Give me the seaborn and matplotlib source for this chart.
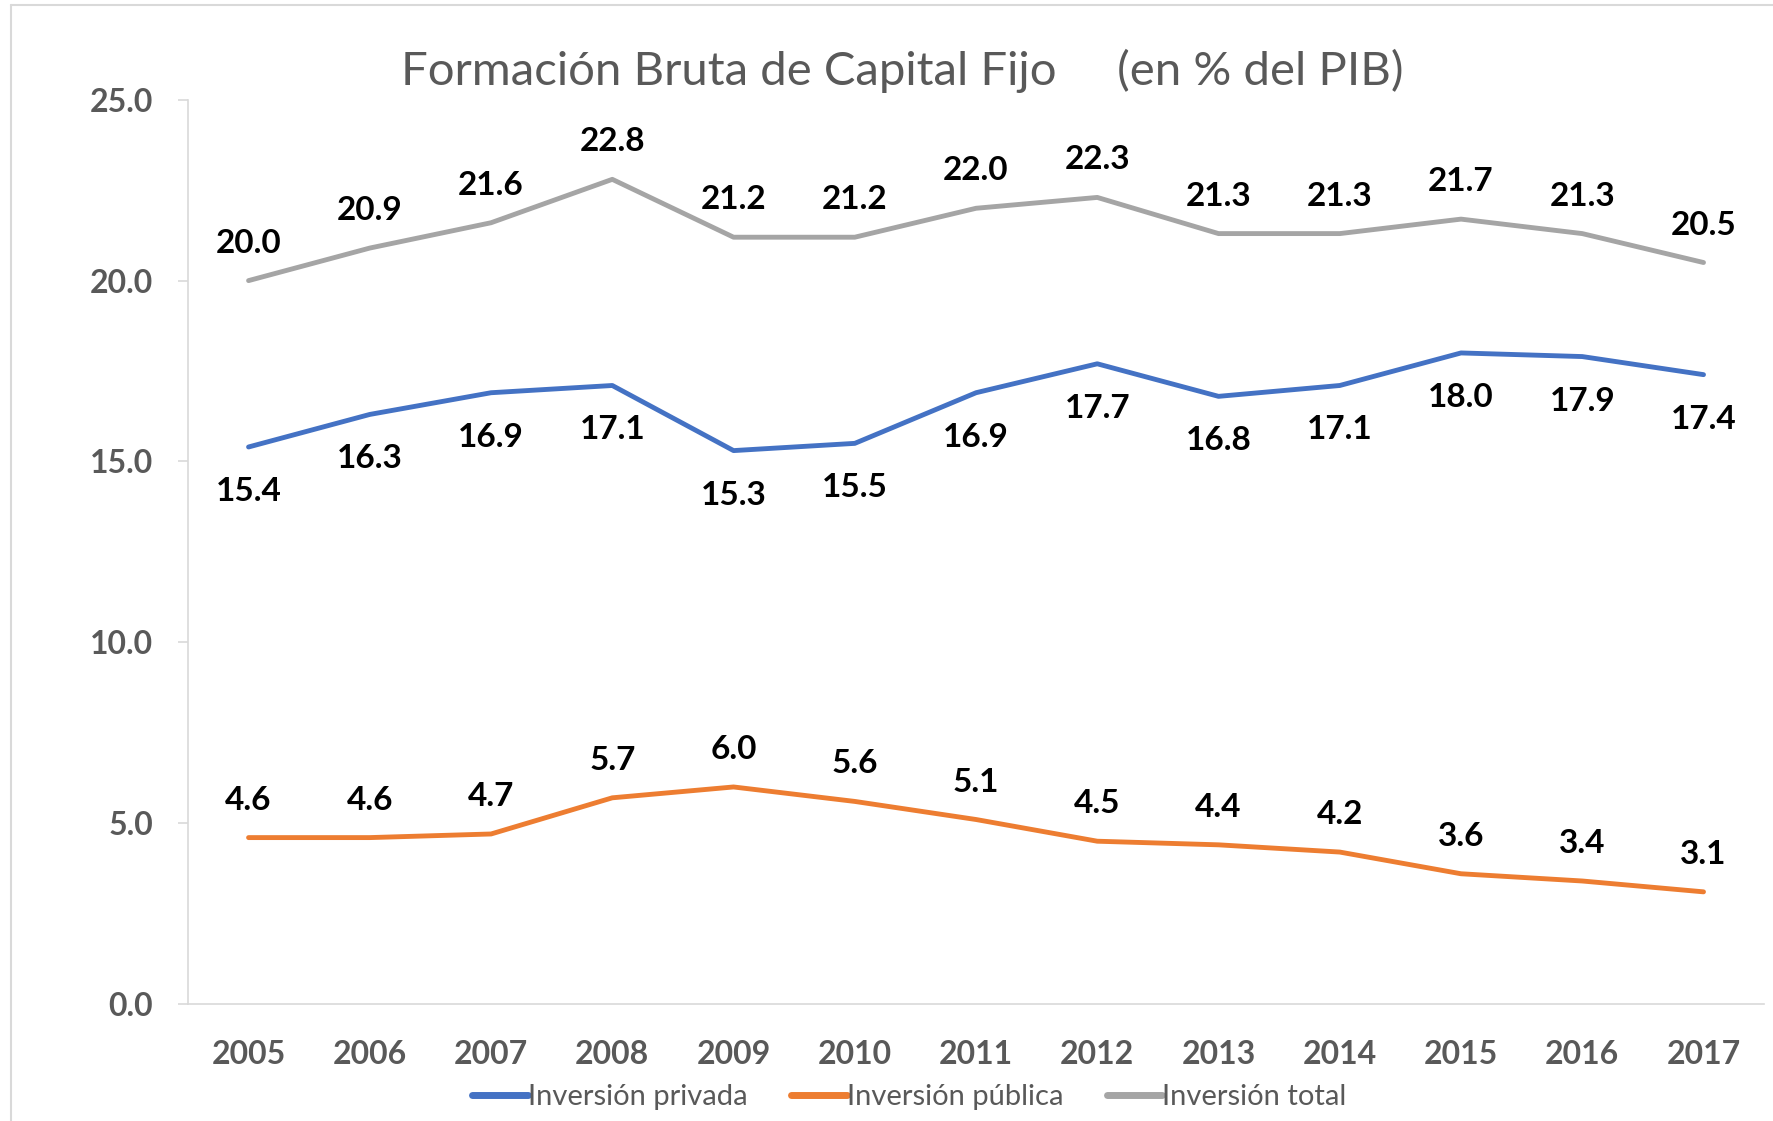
import numpy as np
import pandas as pd
import matplotlib
matplotlib.use("Agg")
import matplotlib.pyplot as plt
from matplotlib.lines import Line2D
import seaborn as sns

years = list(range(2005, 2018))
privada = [15.4, 16.3, 16.9, 17.1, 15.3, 15.5, 16.9, 17.7, 16.8, 17.1, 18.0, 17.9, 17.4]
publica = [4.6, 4.6, 4.7, 5.7, 6.0, 5.6, 5.1, 4.5, 4.4, 4.2, 3.6, 3.4, 3.1]
total = [20.0, 20.9, 21.6, 22.8, 21.2, 21.2, 22.0, 22.3, 21.3, 21.3, 21.7, 21.3, 20.5]

series_names = ["Inversión privada", "Inversión pública", "Inversión total"]
colors = ["#4472C4", "#ED7D31", "#A5A5A5"]

sns.set_style("white")
plt.rcParams['font.family'] = ['Lato', 'DejaVu Sans']

df = pd.DataFrame({
    "year": years * 3,
    "value": privada + publica + total,
    "serie": [series_names[0]] * 13 + [series_names[1]] * 13 + [series_names[2]] * 13,
})

fig = plt.figure(figsize=(17.73, 11.21), dpi=100)
ax = fig.add_axes([0.106, 0.1044, 0.889, 0.8066])

sns.lineplot(data=df, x="year", y="value", hue="serie", palette=colors,
             linewidth=3.5, ax=ax, legend=False)

# data labels: total and publica above, privada below
offsets = {series_names[0]: -32, series_names[1]: 27, series_names[2]: 27}
for name, vals in zip(series_names, [privada, publica, total]):
    for x, v in zip(years, vals):
        ax.annotate(f"{v:.1f}", (x, v), xytext=(0, offsets[name]),
                    textcoords="offset points", ha="center", va="center",
                    fontsize=24, fontweight="bold", color="black")

ax.set_xlim(2004.5, 2017.5)
ax.set_ylim(0, 25)
ax.set_xticks(years)
ax.set_xticklabels([str(y) for y in years])
ax.set_yticks(np.arange(0, 25.1, 5))
ax.set_yticklabels([f"{t:.1f}" for t in np.arange(0, 25.1, 5)])
ax.set_xlabel("")
ax.set_ylabel("")

for side in ["top", "right"]:
    ax.spines[side].set_visible(False)
for side in ["left", "bottom"]:
    ax.spines[side].set_color("#D9D9D9")
    ax.spines[side].set_linewidth(1.2)

ax.tick_params(axis="y", which="both", left=True, length=7, width=1.2,
               color="#D9D9D9", pad=18, labelsize=23, labelcolor="#595959")
ax.tick_params(axis="x", length=0, pad=26, labelsize=23, labelcolor="#595959")
for lab in ax.get_xticklabels() + ax.get_yticklabels():
    lab.set_fontweight("bold")

fig.text(0.509, 0.937, "Formación Bruta de Capital Fijo     (en % del PIB)",
         ha="center", va="center", fontsize=34, color="#595959")

handles = [Line2D([0], [0], color=c, lw=5, solid_capstyle="round") for c in colors]
fig.legend(handles, series_names, loc="center", bbox_to_anchor=(0.513, 0.021),
           ncol=3, frameon=False, fontsize=21, handlelength=1.9, handletextpad=0.0,
           columnspacing=1.5, labelcolor="#595959")

# chart area border (left and top visible)
fig.add_artist(Line2D([0.0062, 0.0062], [0, 0.9955], transform=fig.transFigure,
                      color="#D9D9D9", lw=1.5))
fig.add_artist(Line2D([0.0062, 1.0], [0.9955, 0.9955], transform=fig.transFigure,
                      color="#D9D9D9", lw=1.5))

fig.savefig("out.png", dpi=100)
